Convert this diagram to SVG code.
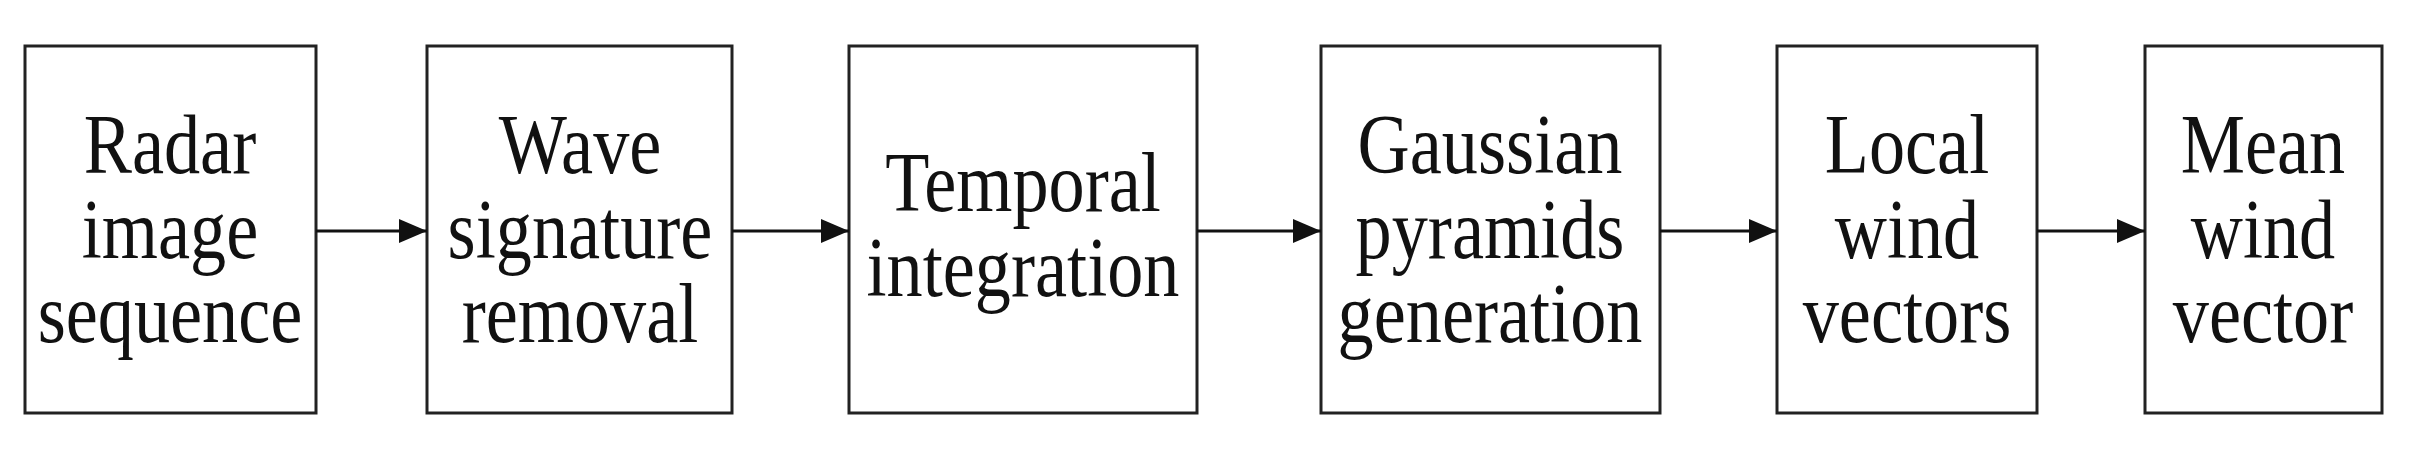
<svg xmlns="http://www.w3.org/2000/svg" width="2416" height="456" viewBox="0 0 2416 456">
<style>
.b{fill:#fff;stroke:#222;stroke-width:3}
.t{font-family:"Liberation Serif",serif;font-size:84px;fill:#111;text-anchor:middle}
.c{stroke:#111;stroke-width:3;fill:none;marker-end:url(#a)}
</style>
<defs><marker id="a" markerWidth="28" markerHeight="24" refX="28" refY="12" orient="auto" markerUnits="userSpaceOnUse" viewBox="0 0 28 24"><path d="M0,0 L28,12 L0,24z" fill="#111"/></marker></defs>
<rect width="2416" height="456" fill="#fff"/>
<g id="n1"><rect class="b" x="25" y="46" width="291" height="367"/><text class="t" transform="translate(170,0) scale(0.86,1)"><tspan x="0" y="173">Radar</tspan><tspan x="0" y="258">image</tspan><tspan x="0" y="342">sequence</tspan></text></g>
<g id="n2"><rect class="b" x="427" y="46" width="305" height="367"/><text class="t" transform="translate(580,0) scale(0.86,1)"><tspan x="0" y="173">Wave</tspan><tspan x="0" y="258">signature</tspan><tspan x="0" y="342">removal</tspan></text></g>
<g id="n3"><rect class="b" x="849" y="46" width="348" height="367"/><text class="t" transform="translate(1023,0) scale(0.86,1)"><tspan x="0" y="211">Temporal</tspan><tspan x="0" y="296">integration</tspan></text></g>
<g id="n4"><rect class="b" x="1321" y="46" width="339" height="367"/><text class="t" transform="translate(1490,0) scale(0.86,1)"><tspan x="0" y="173">Gaussian</tspan><tspan x="0" y="258">pyramids</tspan><tspan x="0" y="342">generation</tspan></text></g>
<g id="n5"><rect class="b" x="1777" y="46" width="260" height="367"/><text class="t" transform="translate(1907,0) scale(0.86,1)"><tspan x="0" y="173">Local</tspan><tspan x="0" y="258">wind</tspan><tspan x="0" y="342">vectors</tspan></text></g>
<g id="n6"><rect class="b" x="2145" y="46" width="237" height="367"/><text class="t" transform="translate(2263,0) scale(0.86,1)"><tspan x="0" y="173">Mean</tspan><tspan x="0" y="258">wind</tspan><tspan x="0" y="342">vector</tspan></text></g>
<g id="connectors">
<path class="c" d="M316,231H427"/>
<path class="c" d="M732,231H849"/>
<path class="c" d="M1197,231H1321"/>
<path class="c" d="M1660,231H1777"/>
<path class="c" d="M2037,231H2145"/>
</g>
</svg>
